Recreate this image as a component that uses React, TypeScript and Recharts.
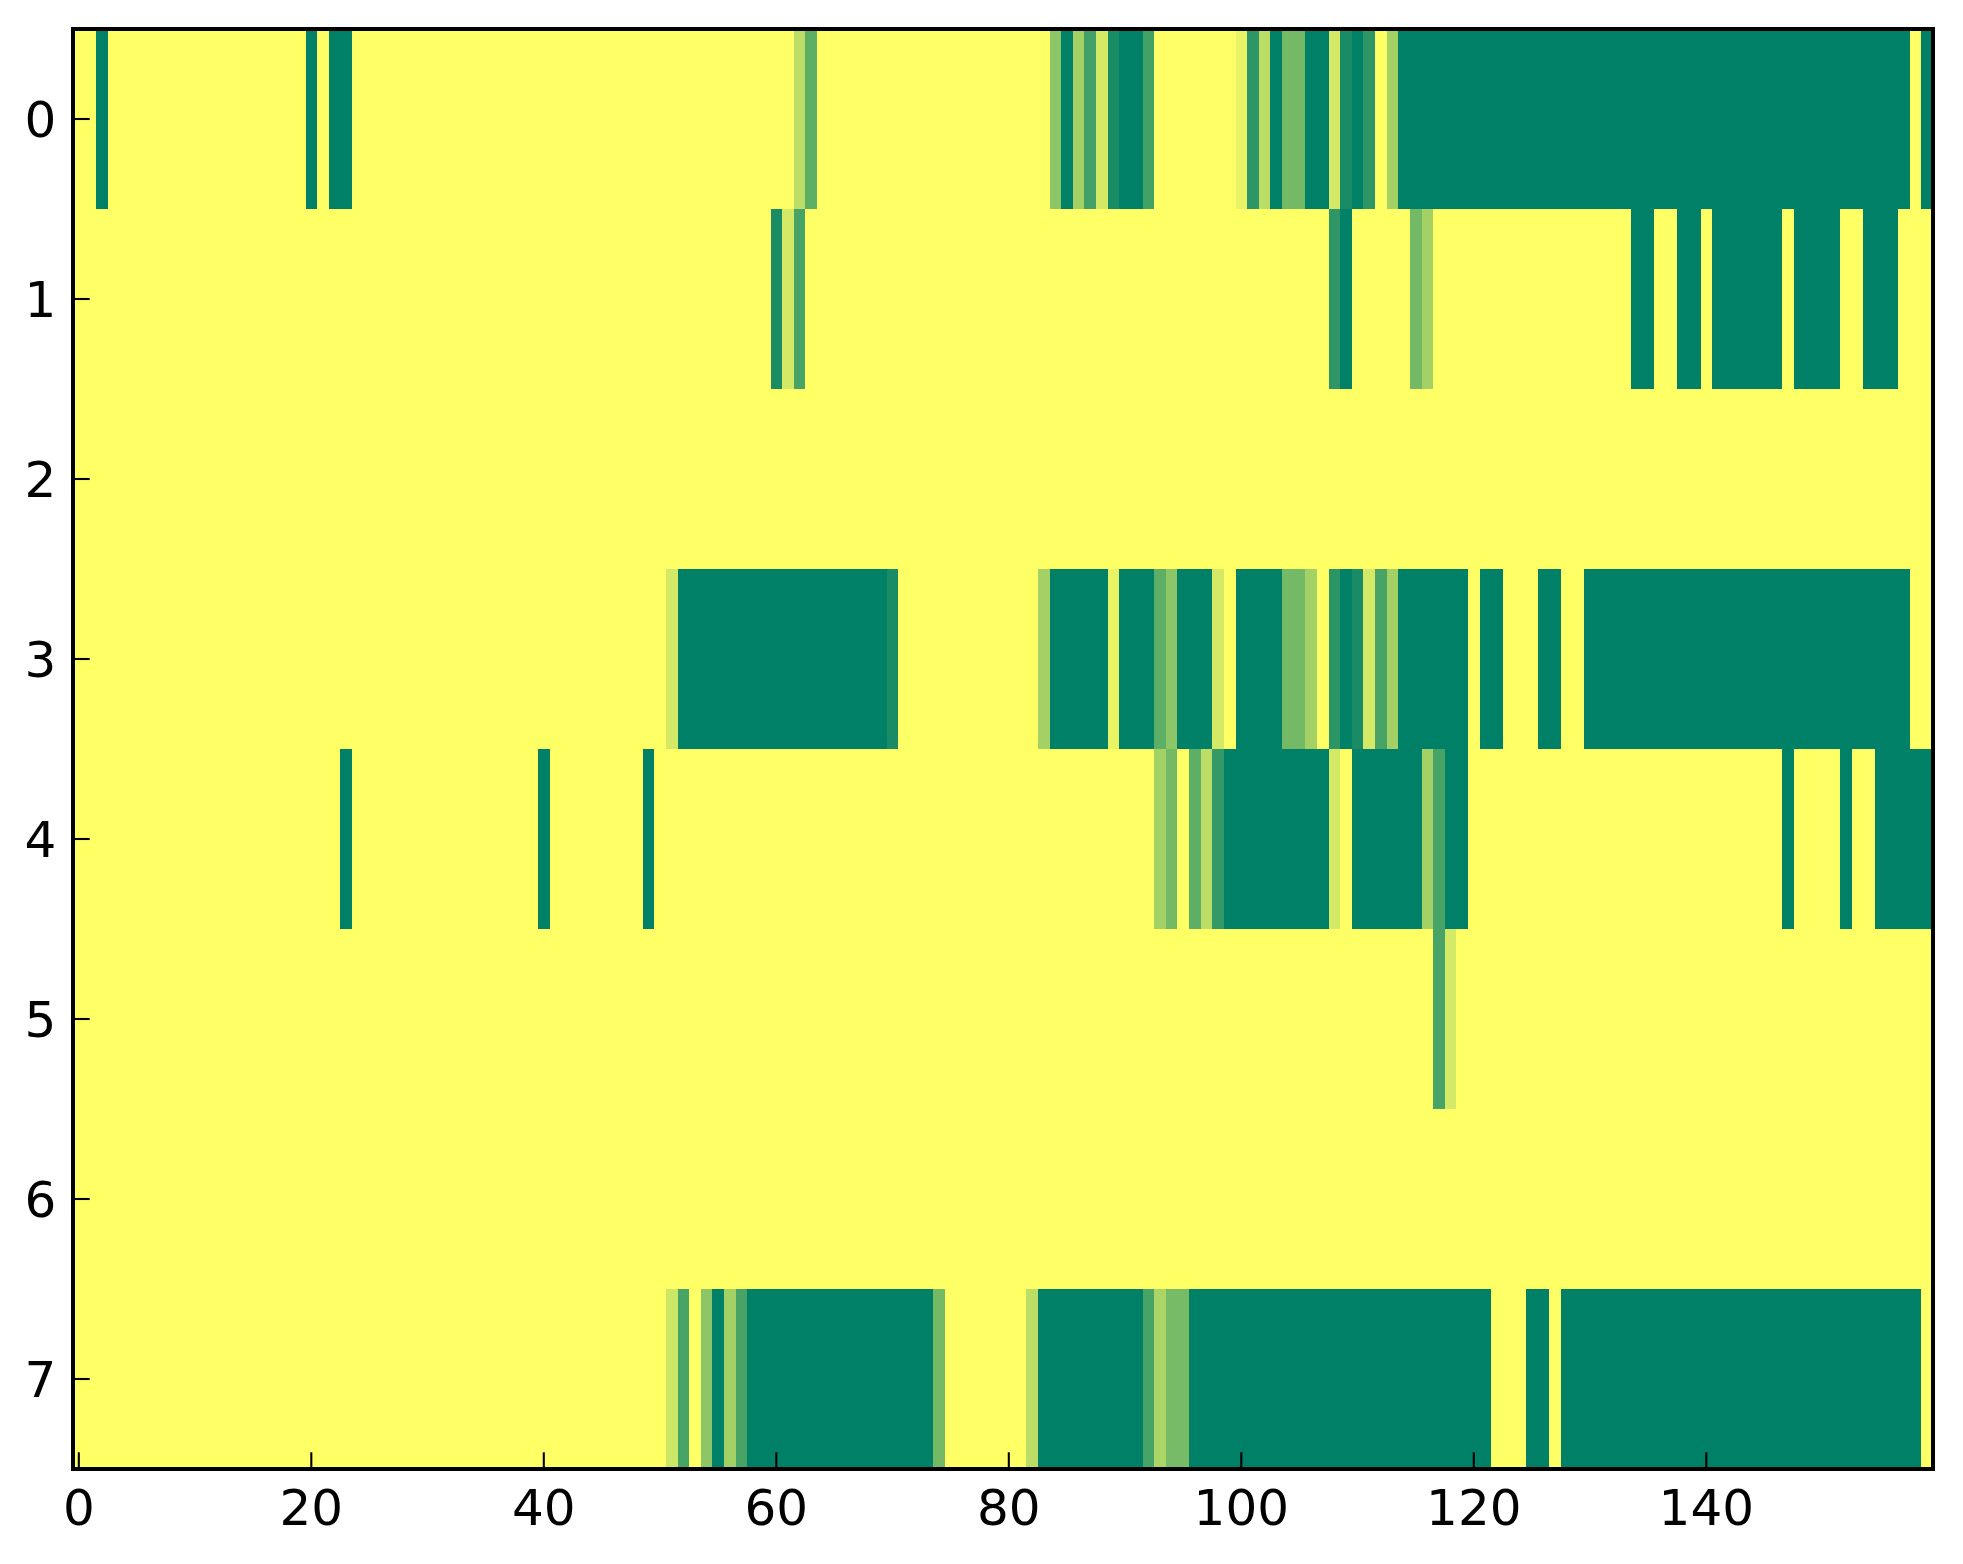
import React from 'react';
import { ScatterChart, Scatter, XAxis, YAxis, ReferenceArea } from 'recharts';

// Column indices (x categories) and row indices (y categories)
const columnCount = 160;
const rowLabels = [0, 1, 2, 3, 4, 5, 6, 7];
const xTicks = [0, 20, 40, 60, 80, 100, 120, 140];
const yTicks = [0, 1, 2, 3, 4, 5, 6, 7];

// Heatmap values per row, 160 columns each (0 = yellow, 1 = dark green)
const row0 = [
  0, 0, 1, 0, 0, 0, 0, 0, 0, 0, 0, 0, 0, 0, 0, 0, 0, 0, 0, 0,
  1, 0, 1, 1, 0, 0, 0, 0, 0, 0, 0, 0, 0, 0, 0, 0, 0, 0, 0, 0,
  0, 0, 0, 0, 0, 0, 0, 0, 0, 0, 0, 0, 0, 0, 0, 0, 0, 0, 0, 0,
  0, 0, 0.26, 0.63, 0, 0, 0, 0, 0, 0, 0, 0, 0, 0, 0, 0, 0, 0, 0, 0,
  0, 0, 0, 0, 0.45, 1, 0.36, 0.74, 0.17, 0.9, 1, 1, 0.74, 0, 0, 0, 0, 0, 0, 0,
  0.09, 0.82, 0.26, 1, 0.55, 0.55, 1, 1, 0.17, 0.9, 1, 0.82, 0, 0.36, 1, 1, 1, 1, 1, 1,
  1, 1, 1, 1, 1, 1, 1, 1, 1, 1, 1, 1, 1, 1, 1, 1, 1, 1, 1, 1,
  1, 1, 1, 1, 1, 1, 1, 1, 1, 1, 1, 1, 1, 1, 1, 1, 1, 1, 0, 1,
];
const row1 = [
  0, 0, 0, 0, 0, 0, 0, 0, 0, 0, 0, 0, 0, 0, 0, 0, 0, 0, 0, 0,
  0, 0, 0, 0, 0, 0, 0, 0, 0, 0, 0, 0, 0, 0, 0, 0, 0, 0, 0, 0,
  0, 0, 0, 0, 0, 0, 0, 0, 0, 0, 0, 0, 0, 0, 0, 0, 0, 0, 0, 0,
  0.9, 0.17, 0.72, 0, 0, 0, 0, 0, 0, 0, 0, 0, 0, 0, 0, 0, 0, 0, 0, 0,
  0, 0, 0, 0, 0, 0, 0, 0, 0, 0, 0, 0, 0, 0, 0, 0, 0, 0, 0, 0,
  0, 0, 0, 0, 0, 0, 0, 0, 0.82, 1, 0, 0, 0, 0, 0, 0.55, 0.36, 0, 0, 0,
  0, 0, 0, 0, 0, 0, 0, 0, 0, 0, 0, 0, 0, 0, 1, 1, 0, 0, 1, 1,
  0, 1, 1, 1, 1, 1, 1, 0, 1, 1, 1, 1, 0, 0, 1, 1, 1, 0, 0, 0,
];
const row2 = [
  0, 0, 0, 0, 0, 0, 0, 0, 0, 0, 0, 0, 0, 0, 0, 0, 0, 0, 0, 0,
  0, 0, 0, 0, 0, 0, 0, 0, 0, 0, 0, 0, 0, 0, 0, 0, 0, 0, 0, 0,
  0, 0, 0, 0, 0, 0, 0, 0, 0, 0, 0, 0, 0, 0, 0, 0, 0, 0, 0, 0,
  0, 0, 0, 0, 0, 0, 0, 0, 0, 0, 0, 0, 0, 0, 0, 0, 0, 0, 0, 0,
  0, 0, 0, 0, 0, 0, 0, 0, 0, 0, 0, 0, 0, 0, 0, 0, 0, 0, 0, 0,
  0, 0, 0, 0, 0, 0, 0, 0, 0, 0, 0, 0, 0, 0, 0, 0, 0, 0, 0, 0,
  0, 0, 0, 0, 0, 0, 0, 0, 0, 0, 0, 0, 0, 0, 0, 0, 0, 0, 0, 0,
  0, 0, 0, 0, 0, 0, 0, 0, 0, 0, 0, 0, 0, 0, 0, 0, 0, 0, 0, 0,
];
const row3 = [
  0, 0, 0, 0, 0, 0, 0, 0, 0, 0, 0, 0, 0, 0, 0, 0, 0, 0, 0, 0,
  0, 0, 0, 0, 0, 0, 0, 0, 0, 0, 0, 0, 0, 0, 0, 0, 0, 0, 0, 0,
  0, 0, 0, 0, 0, 0, 0, 0, 0, 0, 0, 0.17, 1, 1, 1, 1, 1, 1, 1, 1,
  1, 1, 1, 1, 1, 1, 1, 1, 1, 1, 0.9, 0, 0, 0, 0, 0, 0, 0, 0, 0,
  0, 0, 0, 0.36, 1, 1, 1, 1, 1, 0.09, 1, 1, 1, 0.63, 0.45, 1, 1, 1, 0.17, 0,
  1, 1, 1, 1, 0.55, 0.55, 0.36, 0, 0.83, 1, 0.9, 0.17, 0.72, 0.36, 1, 1, 1, 1, 1, 1,
  0, 1, 1, 0, 0, 0, 1, 1, 0, 0, 1, 1, 1, 1, 1, 1, 1, 1, 1, 1,
  1, 1, 1, 1, 1, 1, 1, 1, 1, 1, 1, 1, 1, 1, 1, 1, 1, 1, 0, 0,
];
const row4 = [
  0, 0, 0, 0, 0, 0, 0, 0, 0, 0, 0, 0, 0, 0, 0, 0, 0, 0, 0, 0,
  0, 0, 0, 1, 0, 0, 0, 0, 0, 0, 0, 0, 0, 0, 0, 0, 0, 0, 0, 0,
  1, 0, 0, 0, 0, 0, 0, 0, 0, 1, 0, 0, 0, 0, 0, 0, 0, 0, 0, 0,
  0, 0, 0, 0, 0, 0, 0, 0, 0, 0, 0, 0, 0, 0, 0, 0, 0, 0, 0, 0,
  0, 0, 0, 0, 0, 0, 0, 0, 0, 0, 0, 0, 0, 0.36, 0.55, 0, 0.63, 0.26, 0.8, 1,
  1, 1, 1, 1, 1, 1, 1, 1, 0.17, 0, 1, 1, 1, 1, 1, 1, 0.36, 0.72, 1, 1,
  0, 0, 0, 0, 0, 0, 0, 0, 0, 0, 0, 0, 0, 0, 0, 0, 0, 0, 0, 0,
  0, 0, 0, 0, 0, 0, 0, 1, 0, 0, 0, 0, 1, 0, 0, 1, 1, 1, 1, 1,
];
const row5 = [
  0, 0, 0, 0, 0, 0, 0, 0, 0, 0, 0, 0, 0, 0, 0, 0, 0, 0, 0, 0,
  0, 0, 0, 0, 0, 0, 0, 0, 0, 0, 0, 0, 0, 0, 0, 0, 0, 0, 0, 0,
  0, 0, 0, 0, 0, 0, 0, 0, 0, 0, 0, 0, 0, 0, 0, 0, 0, 0, 0, 0,
  0, 0, 0, 0, 0, 0, 0, 0, 0, 0, 0, 0, 0, 0, 0, 0, 0, 0, 0, 0,
  0, 0, 0, 0, 0, 0, 0, 0, 0, 0, 0, 0, 0, 0, 0, 0, 0, 0, 0, 0,
  0, 0, 0, 0, 0, 0, 0, 0, 0, 0, 0, 0, 0, 0, 0, 0, 0, 0.72, 0.17, 0,
  0, 0, 0, 0, 0, 0, 0, 0, 0, 0, 0, 0, 0, 0, 0, 0, 0, 0, 0, 0,
  0, 0, 0, 0, 0, 0, 0, 0, 0, 0, 0, 0, 0, 0, 0, 0, 0, 0, 0, 0,
];
const row6 = [
  0, 0, 0, 0, 0, 0, 0, 0, 0, 0, 0, 0, 0, 0, 0, 0, 0, 0, 0, 0,
  0, 0, 0, 0, 0, 0, 0, 0, 0, 0, 0, 0, 0, 0, 0, 0, 0, 0, 0, 0,
  0, 0, 0, 0, 0, 0, 0, 0, 0, 0, 0, 0, 0, 0, 0, 0, 0, 0, 0, 0,
  0, 0, 0, 0, 0, 0, 0, 0, 0, 0, 0, 0, 0, 0, 0, 0, 0, 0, 0, 0,
  0, 0, 0, 0, 0, 0, 0, 0, 0, 0, 0, 0, 0, 0, 0, 0, 0, 0, 0, 0,
  0, 0, 0, 0, 0, 0, 0, 0, 0, 0, 0, 0, 0, 0, 0, 0, 0, 0, 0, 0,
  0, 0, 0, 0, 0, 0, 0, 0, 0, 0, 0, 0, 0, 0, 0, 0, 0, 0, 0, 0,
  0, 0, 0, 0, 0, 0, 0, 0, 0, 0, 0, 0, 0, 0, 0, 0, 0, 0, 0, 0,
];
const row7 = [
  0, 0, 0, 0, 0, 0, 0, 0, 0, 0, 0, 0, 0, 0, 0, 0, 0, 0, 0, 0,
  0, 0, 0, 0, 0, 0, 0, 0, 0, 0, 0, 0, 0, 0, 0, 0, 0, 0, 0, 0,
  0, 0, 0, 0, 0, 0, 0, 0, 0, 0, 0, 0.2, 0.72, 0, 0.45, 1, 0.36, 0.72, 1, 1,
  1, 1, 1, 1, 1, 1, 1, 1, 1, 1, 1, 1, 1, 1, 0.55, 0, 0, 0, 0, 0,
  0, 0, 0.26, 1, 1, 1, 1, 1, 1, 1, 1, 1, 0.72, 0.33, 0.53, 0.53, 1, 1, 1, 1,
  1, 1, 1, 1, 1, 1, 1, 1, 1, 1, 1, 1, 1, 1, 1, 1, 1, 1, 1, 1,
  1, 1, 0, 0, 0, 1, 1, 0, 1, 1, 1, 1, 1, 1, 1, 1, 1, 1, 1, 1,
  1, 1, 1, 1, 1, 1, 1, 1, 1, 1, 1, 1, 1, 1, 1, 1, 1, 1, 1, 0,
];

const rows = [row0, row1, row2, row3, row4, row5, row6, row7];

// Cell centres as scatter data (anchors the numeric axes)
const cellData = rows.flatMap((values, r) =>
  values.map((v, c) => ({ col: c, row: rowLabels[r], value: v }))
);

// summer_r colormap
const summerR = (v: number) =>
  `rgb(${Math.round(255 * (1 - v))}, ${Math.round(255 * (1 - v / 2))}, 102)`;

const FONT = '"DejaVu Sans", "Liberation Sans", sans-serif';
const TICK_LEN = 16.7;
const TICK_W = 2.1;
const FONT_SIZE = 50;

const BottomTick = (props: any) => {
  const { x, y, payload } = props;
  return (
    <g>
      <line x1={x} x2={x} y1={y} y2={y - TICK_LEN} stroke="#000" strokeWidth={TICK_W} />
      <text x={x} y={y + 56} textAnchor="middle" fontSize={FONT_SIZE} fontFamily={FONT} fill="#000">
        {payload.value}
      </text>
    </g>
  );
};

const TopTick = (props: any) => {
  const { x, y } = props;
  return <line x1={x} x2={x} y1={y} y2={y + TICK_LEN} stroke="#000" strokeWidth={TICK_W} />;
};

const LeftTick = (props: any) => {
  const { x, y, payload } = props;
  return (
    <g>
      <line x1={x} x2={x + TICK_LEN} y1={y} y2={y} stroke="#000" strokeWidth={TICK_W} />
      <text x={x - 16.7} y={y + 18.2} textAnchor="end" fontSize={FONT_SIZE} fontFamily={FONT} fill="#000">
        {payload.value}
      </text>
    </g>
  );
};

const RightTick = (props: any) => {
  const { x, y } = props;
  return <line x1={x} x2={x - TICK_LEN} y1={y} y2={y} stroke="#000" strokeWidth={TICK_W} />;
};

const NoMarker = () => <g />;

export default function App() {
  const cells: React.ReactNode[] = [];
  rows.forEach((values, r) => {
    for (let c = 0; c < columnCount; c++) {
      cells.push(
        <ReferenceArea
          key={`cell-${rowLabels[r]}-${c}`}
          xAxisId="main"
          yAxisId="main"
          x1={c - 0.5}
          x2={c + 0.5}
          y1={rowLabels[r] - 0.5}
          y2={rowLabels[r] + 0.5}
          fill={summerR(values[c])}
          fillOpacity={1}
          stroke="none"
          ifOverflow="visible"
        />
      );
    }
  });

  return (
    <div style={{ width: 1955, height: 1556, background: '#fff' }}>
      <style>{'.recharts-reference-area-rect{shape-rendering:crispEdges}'}</style>
      <ScatterChart
        width={1955}
        height={1556}
        margin={{ top: 21, right: 30, bottom: 35, left: 0 }}
      >
        <XAxis
          xAxisId="main"
          dataKey="col"
          type="number"
          domain={[-0.5, columnCount - 0.5]}
          allowDataOverflow
          ticks={xTicks}
          interval={0}
          height={60}
          axisLine={false}
          tickLine={false}
          tickSize={0}
          tickMargin={0}
          tick={<BottomTick />}
        />
        <XAxis
          xAxisId="top"
          orientation="top"
          dataKey="col"
          type="number"
          domain={[-0.5, columnCount - 0.5]}
          allowDataOverflow
          ticks={xTicks}
          interval={0}
          height={0}
          axisLine={false}
          tickLine={false}
          tickSize={0}
          tickMargin={0}
          tick={<TopTick />}
        />
        <YAxis
          yAxisId="main"
          dataKey="row"
          type="number"
          domain={[-0.5, rowLabels.length - 0.5]}
          allowDataOverflow
          reversed
          ticks={yTicks}
          interval={0}
          width={65}
          axisLine={false}
          tickLine={false}
          tickSize={0}
          tickMargin={0}
          tick={<LeftTick />}
        />
        <YAxis
          yAxisId="right"
          orientation="right"
          dataKey="row"
          type="number"
          domain={[-0.5, rowLabels.length - 0.5]}
          allowDataOverflow
          reversed
          ticks={yTicks}
          interval={0}
          width={0}
          axisLine={false}
          tickLine={false}
          tickSize={0}
          tickMargin={0}
          tick={<RightTick />}
        />
        {cells}
        <ReferenceArea
          xAxisId="main"
          yAxisId="main"
          x1={-0.5}
          x2={columnCount - 0.5}
          y1={-0.5}
          y2={rowLabels.length - 0.5}
          fill="none"
          stroke="#000"
          strokeWidth={4.2}
          ifOverflow="visible"
        />
        <Scatter
          xAxisId="main"
          yAxisId="main"
          data={cellData}
          dataKey="row"
          shape={<NoMarker />}
          isAnimationActive={false}
        />
        <Scatter
          xAxisId="top"
          yAxisId="right"
          data={cellData}
          dataKey="row"
          shape={<NoMarker />}
          isAnimationActive={false}
        />
      </ScatterChart>
    </div>
  );
}
